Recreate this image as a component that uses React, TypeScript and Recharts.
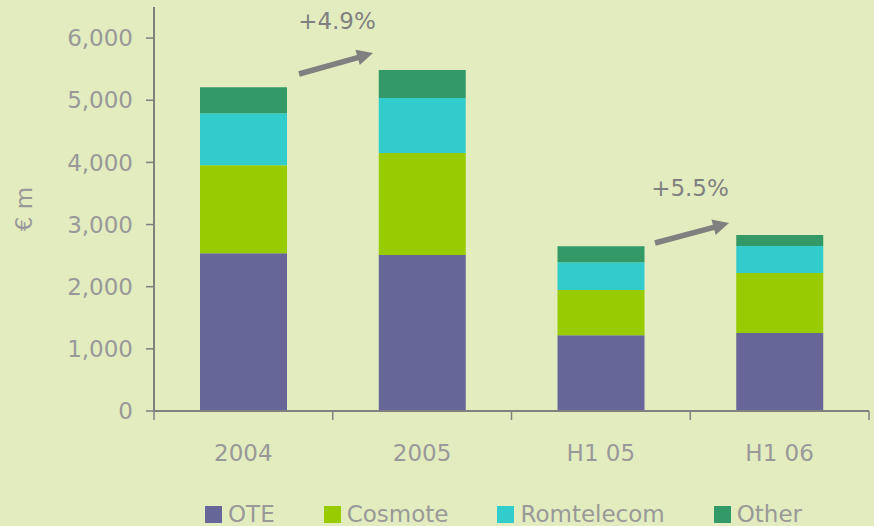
import React from 'react';
import { BarChart, Bar, XAxis, YAxis, Legend, Customized } from 'recharts';

const categories = ['2004', '2005', 'H1 05', 'H1 06'];
const oteValues = [2540, 2510, 1220, 1255];
const cosmoteValues = [1415, 1640, 725, 965];
const romtelecomValues = [835, 885, 450, 435];
const otherValues = [420, 450, 257, 177];
const seriesNames = ['OTE', 'Cosmote', 'Romtelecom', 'Other'];
const yTicks = [0, 1000, 2000, 3000, 4000, 5000, 6000];
const growthLabels = ['+4.9%', '+5.5%'];

const COLORS = ['#666699', '#99cc00', '#33cccc', '#339966'];
const BG = '#e3ecbf';
const AXIS = '#808080';
const TEXT = '#999999';
const FONT = '"DejaVu Sans", "Liberation Sans", sans-serif';

const W = 874;
const H = 526;
const PLOT_LEFT = 154;
const PLOT_RIGHT = 869;

const data = categories.map((c, i) => ({
  name: c,
  OTE: oteValues[i],
  Cosmote: cosmoteValues[i],
  Romtelecom: romtelecomValues[i],
  Other: otherValues[i],
}));

const half = (PLOT_RIGHT - PLOT_LEFT) / categories.length / 2;

const XTick = (props: any) => {
  const { x, y, payload, index } = props;
  const last = index === categories.length - 1;
  return (
    <g>
      <line x1={x - half} x2={x - half} y1={y} y2={y + 9} stroke={AXIS} strokeWidth={1.5} />
      {last && <line x1={x + half} x2={x + half} y1={y} y2={y + 9} stroke={AXIS} strokeWidth={1.5} />}
      <text x={x} y={y + 42} textAnchor="middle" dominantBaseline="central" fill={TEXT} fontSize={23} fontFamily={FONT}>
        {payload.value}
      </text>
    </g>
  );
};

const arrow = (x1: number, y1: number, x2: number, y2: number) => {
  const ang = Math.atan2(y2 - y1, x2 - x1);
  const hl = 16;
  const hw = 8;
  const bx = x2 - hl * Math.cos(ang);
  const by = y2 - hl * Math.sin(ang);
  const px = -Math.sin(ang);
  const py = Math.cos(ang);
  const pts = `${x2},${y2} ${bx + px * hw},${by + py * hw} ${bx - px * hw},${by - py * hw}`;
  return (
    <g>
      <line x1={x1} y1={y1} x2={bx + 1} y2={by} stroke={AXIS} strokeWidth={5.5} />
      <polygon points={pts} fill={AXIS} />
    </g>
  );
};

const Annotations = () => (
  <g>
    {arrow(299, 74, 373, 53)}
    <text x={337} y={21} textAnchor="middle" dominantBaseline="central" fill={AXIS} fontSize={23} fontFamily={FONT}>
      {growthLabels[0]}
    </text>
    {arrow(655, 243, 729, 223)}
    <text x={690} y={188} textAnchor="middle" dominantBaseline="central" fill={AXIS} fontSize={23} fontFamily={FONT}>
      {growthLabels[1]}
    </text>
  </g>
);

const renderLegend = () => (
  <div style={{ display: 'flex', alignItems: 'center', fontFamily: FONT, fontSize: 23, color: TEXT, whiteSpace: 'nowrap' }}>
    {seriesNames.map((name, i) => (
      <div key={name} style={{ display: 'flex', alignItems: 'center', marginRight: i < seriesNames.length - 1 ? 49 : 0 }}>
        <span style={{ width: 17, height: 17, background: COLORS[i], marginRight: 6, display: 'inline-block' }} />
        <span>{name}</span>
      </div>
    ))}
  </div>
);

export default function App() {
  return (
    <div style={{ position: 'absolute', left: 0, top: 0, width: W, height: H, background: BG }}>
      <BarChart width={W} height={H} data={data} margin={{ top: 7, right: W - PLOT_RIGHT, left: 0, bottom: 0 }} barSize={87}>
        <XAxis
          dataKey="name"
          height={H - 411}
          axisLine={{ stroke: AXIS, strokeWidth: 2 }}
          tickLine={false}
          tickSize={0}
          tickMargin={0}
          tick={<XTick />}
          interval={0}
        />
        <YAxis
          width={PLOT_LEFT}
          domain={[0, 6500]}
          ticks={yTicks}
          allowDataOverflow
          tickFormatter={(v: number) => v.toLocaleString('en-US')}
          axisLine={{ stroke: AXIS, strokeWidth: 2 }}
          tickLine={{ stroke: AXIS, strokeWidth: 1.5 }}
          tickSize={8}
          tickMargin={13}
          tick={{ fill: TEXT, fontSize: 23, fontFamily: FONT }}
          label={{
            content: (p: any) => {
              const vb = p.viewBox || { x: 0, y: 7, height: 404 };
              const cx = vb.x + 24;
              const cy = vb.y + vb.height / 2;
              return (
                <text x={cx} y={cy} transform={`rotate(-90 ${cx} ${cy})`} textAnchor="middle" dominantBaseline="central" fill={TEXT} fontSize={23} fontFamily={FONT}>
                  € m
                </text>
              );
            },
          }}
        />
        {seriesNames.map((s, i) => (
          <Bar key={s} dataKey={s} stackId="a" fill={COLORS[i]} isAnimationActive={false} />
        ))}
        <Legend
          layout="horizontal"
          verticalAlign="middle"
          align="center"
          content={renderLegend}
          wrapperStyle={{ left: 205, top: 501, width: 'auto', height: 'auto' }}
        />
        <Customized component={Annotations} />
      </BarChart>
    </div>
  );
}
